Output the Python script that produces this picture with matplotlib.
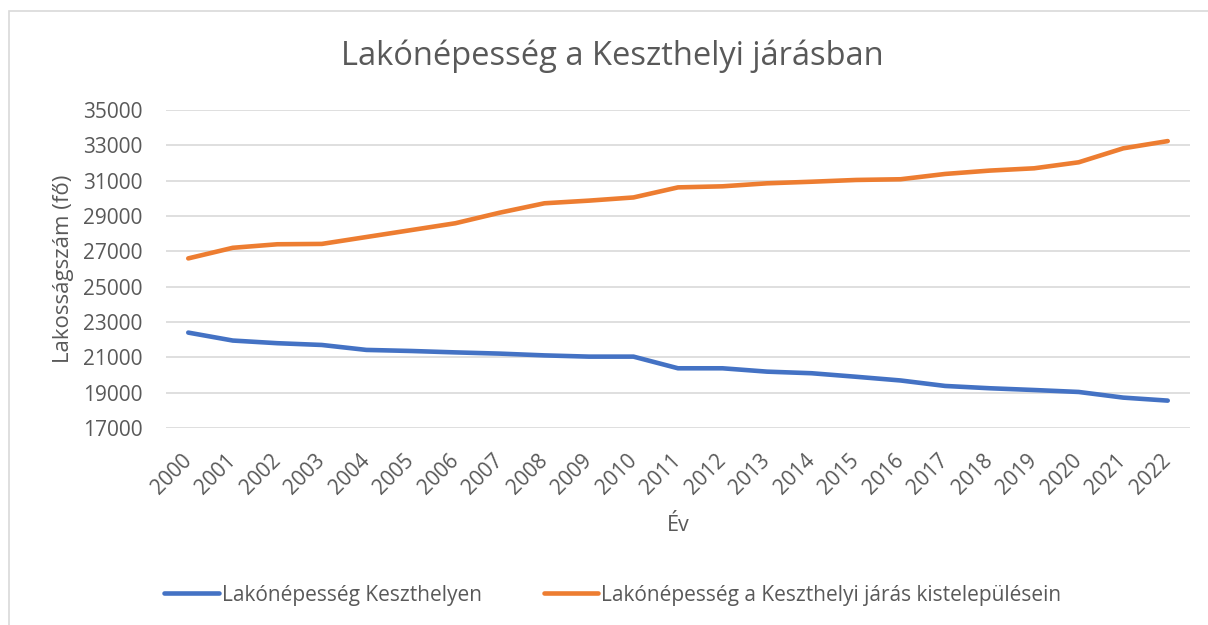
import matplotlib.pyplot as plt
from matplotlib.patches import Rectangle

years = [str(y) for y in range(2000, 2023)]

keszthely = [22400, 21950, 21800, 21700, 21420, 21360, 21280, 21210, 21110,
             21040, 21040, 20380, 20380, 20190, 20100, 19900, 19690, 19380,
             19250, 19150, 19040, 18720, 18550]

kistelepulesek = [26600, 27200, 27400, 27420, 27810, 28200, 28590, 29190, 29720,
                  29870, 30050, 30620, 30680, 30850, 30940, 31040, 31080, 31380,
                  31570, 31700, 32040, 32830, 33240]

yticks = list(range(17000, 35001, 2000))

plt.rcParams['font.family'] = ['Open Sans', 'DejaVu Sans']
text_color = '#595959'
grid_color = '#d9d9d9'

fig = plt.figure(figsize=(12.08, 6.25), dpi=100)
ax = fig.add_axes([166 / 1208, 1 - 428 / 625, (1190 - 166) / 1208, (428 - 110) / 625])

x = list(range(len(years)))
ax.plot(x, keszthely, color='#4472C4', lw=3.3, solid_capstyle='round',
        solid_joinstyle='round', label='Lakónépesség Keszthelyen')
ax.plot(x, kistelepulesek, color='#ED7D31', lw=3.3, solid_capstyle='round',
        solid_joinstyle='round', label='Lakónépesség a Keszthelyi járás kistelepülésein')

ax.set_xlim(-0.5, len(years) - 0.5)
ax.set_ylim(17000, 35000)
ax.set_yticks(yticks)
ax.set_yticklabels([str(v) for v in yticks])
ax.set_xticks(x)
ax.set_xticklabels(years, rotation=45, ha='right', va='center', rotation_mode='anchor')

ax.grid(axis='y', color=grid_color, lw=1.2)
ax.set_axisbelow(True)
for s in ax.spines.values():
    s.set_visible(False)
ax.tick_params(axis='y', length=0, pad=17, labelsize=15, labelcolor=text_color)
ax.tick_params(axis='x', length=0, pad=21, labelsize=15, labelcolor=text_color)

fig.text(612 / 1208, 1 - 56 / 625, 'Lakónépesség a Keszthelyi járásban',
         fontsize=23.5, color=text_color, ha='center', va='center')
ax.set_xlabel('Év', fontsize=15.5, color=text_color, labelpad=12)
ax.set_ylabel('Lakosságszám (fő)', fontsize=16, color=text_color, labelpad=6)

leg = fig.legend(loc='center', bbox_to_anchor=(613 / 1208, 1 - 595 / 625), ncol=2,
                 frameon=False, fontsize=15, handlelength=2.6, handletextpad=0.15,
                 columnspacing=3.0, labelcolor=text_color)

# chart border (cut off at right and bottom)
fig.patches.append(Rectangle((8.5 / 1208, -0.1), 1.2, 1 - 11.5 / 625 + 0.1,
                             transform=fig.transFigure, fill=False,
                             edgecolor=grid_color, lw=1.2))

fig.savefig('out.png', dpi=100)
